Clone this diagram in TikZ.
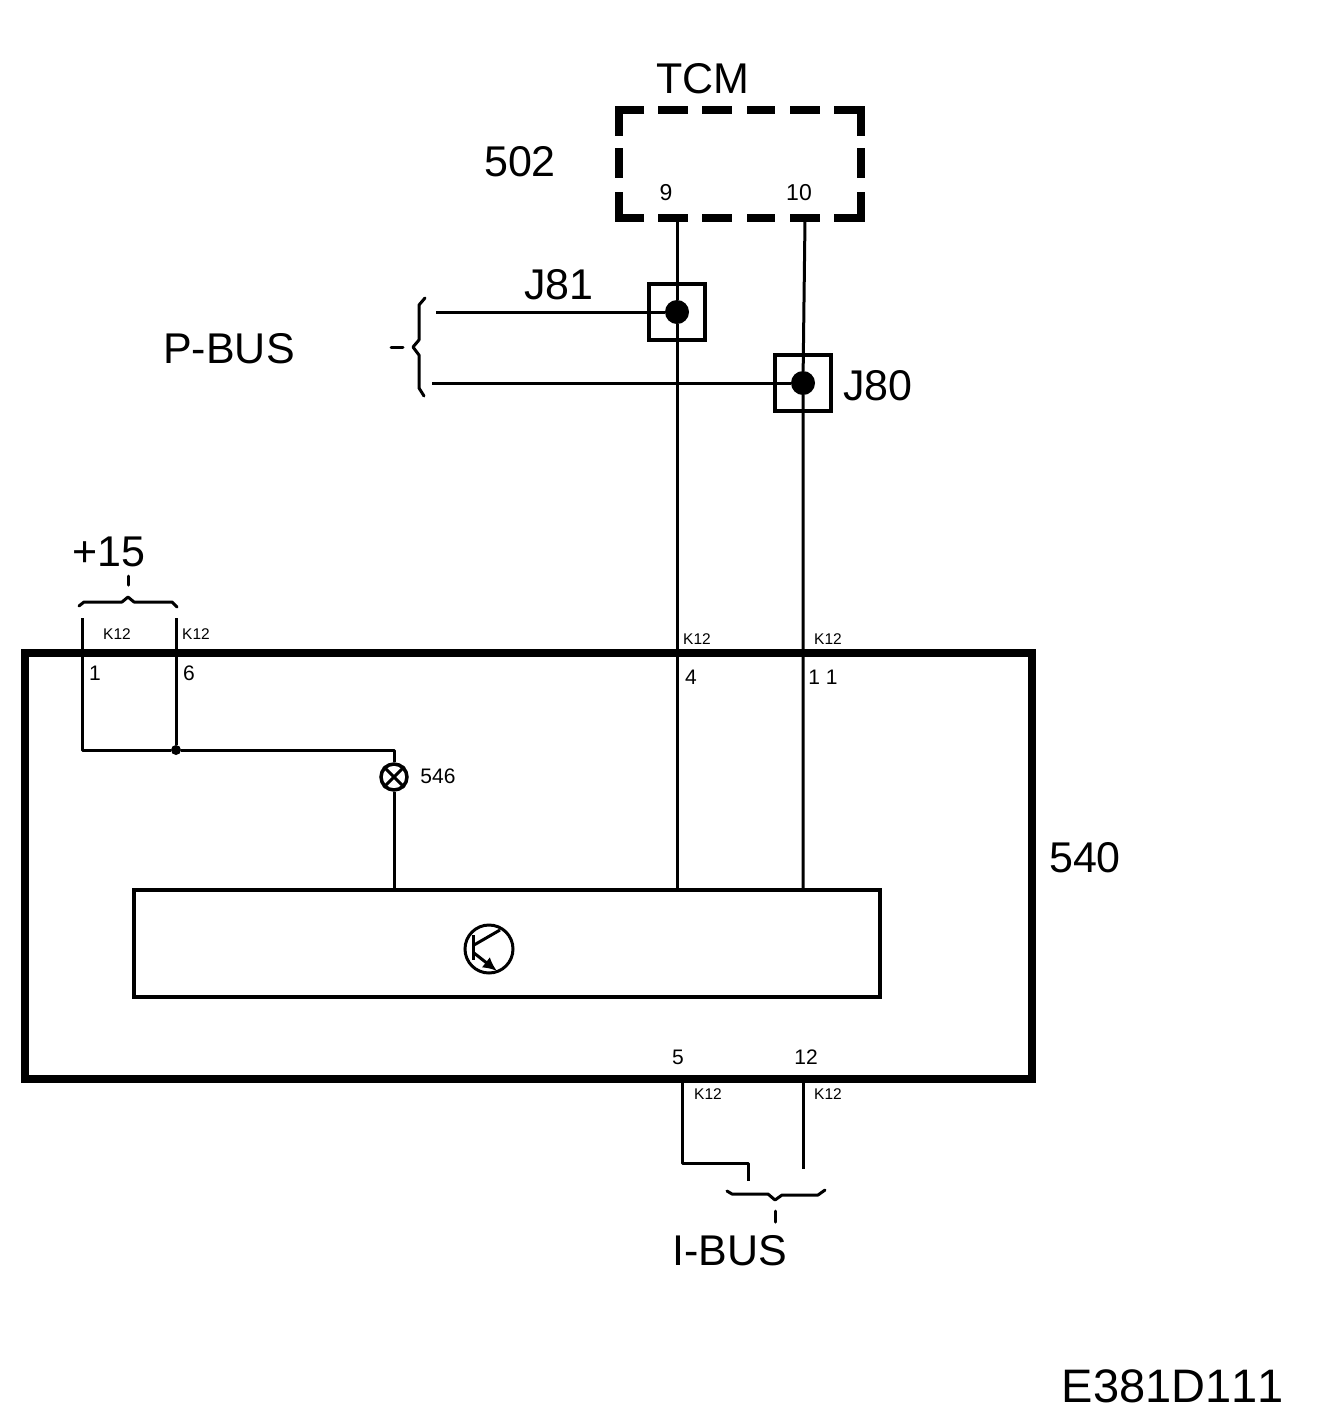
\documentclass[tikz,border=0pt]{standalone}
\usepackage{fontspec}
\setmainfont[Kerning=Off]{Liberation Sans}
\usetikzlibrary{arrows.meta}
\tikzset{
  x=1pt,y=-1pt,
  wire/.style={line width=3pt,line join=round},
  heavy/.style={draw,line width=8pt,outer sep=0pt,inner sep=0pt},
  modbox/.style={draw,line width=3.4pt,outer sep=0pt,inner sep=0pt},
  tcmline/.style={line width=8pt,line join=miter},
  splice/.style={draw,line width=4pt,minimum size=56pt,inner sep=0pt,outer sep=0pt},
  dot/.style={circle,fill=black,inner sep=0pt,minimum size=#1},
  big/.style={font=\fontsize{43pt}{43pt}\selectfont,inner sep=0pt},
  mid/.style={font=\fontsize{23pt}{23pt}\selectfont,inner sep=0pt},
  pin/.style={font=\fontsize{21pt}{21pt}\selectfont,inner sep=0pt},
  tiny/.style={font=\fontsize{15.5pt}{15.5pt}\selectfont,inner sep=0pt},
  brace/.style={line width=3pt,line join=round,line cap=round},
}
\begin{document}
\begin{tikzpicture}
\useasboundingbox (0,0) rectangle (1328,1422);
% TCM dashed box
\draw[tcmline] (644,110) -- (619,110) -- (619,136);
\draw[tcmline] (834,110) -- (860.5,110) -- (860.5,136);
\draw[tcmline] (644,218) -- (619,218) -- (619,192);
\draw[tcmline] (834,218) -- (860.5,218) -- (860.5,192);
\foreach \a/\b in {658/688,702/732,747/775,790/820}{
  \draw[tcmline] (\a,110) -- (\b,110);
  \draw[tcmline] (\a,218) -- (\b,218);
}
\draw[tcmline] (619,148) -- (619,178);
\draw[tcmline] (860.5,148) -- (860.5,178);
% boxes
\node[heavy,minimum width=1007pt,minimum height=426pt,anchor=north west] (ecu) at (25,653) {};
\node[modbox,minimum width=746pt,minimum height=107pt,anchor=north west] (modul) at (134,890) {};
\node[splice] (j81) at (677,312) {};
\node[splice] (j80) at (803,383) {};
\node[dot=24pt] (j81d) at (677,312) {};
\node[dot=24pt] (j80d) at (803,383) {};
% wires
\coordinate (t9) at (677,220); \coordinate (t10) at (805,220);
\coordinate (m4) at (677,890); \coordinate (m11) at (803,890);
\draw[wire] (t9) -- (j81d) -- (m4);
\draw[wire] (t10) -- (j80d) -- (m11);
\coordinate (p1) at (436,312); \coordinate (p2) at (432,383);
\draw[wire] (p1) -- (j81d);
\draw[wire] (p2) -- (j80d);
% +15
\coordinate (a1) at (82,618); \coordinate (a2) at (82,750);
\coordinate (b1) at (176,618);
\node[dot=10pt] (b2) at (176,750) {};
\node[circle,draw,line width=3.5pt,minimum size=26pt,inner sep=0pt] (lamp) at (394,777) {};
\draw[line width=3pt] (lamp.45) -- (lamp.225) (lamp.135) -- (lamp.315);
\coordinate (corner) at (394,750);
\draw[wire] (a1) -- (a2) -- (b2) -- (corner) -- (lamp);
\draw[wire] (b1) -- (b2);
\draw[wire] (lamp) -- (394,890);
% bottom
\coordinate (q5) at (682,1079); \coordinate (q12) at (803,1079);
\coordinate (q5e) at (748,1181); \coordinate (q12e) at (803,1169);
\draw[wire] (q5) -- (682,1163) -- (748,1163) -- (q5e);
\draw[wire] (q12) -- (q12e);
% transistor
\node[circle,draw,line width=3pt,minimum size=48pt,inner sep=0pt] (tr) at (489,949) {};
\draw[line width=3.5pt] (473.5,935) -- (473.5,960);
\draw[line width=3pt] (474,945) -- (500,930);
\draw[line width=3pt,-{Latex[length=14pt,width=13pt]}] (474,953) -- (497,971);
% braces
\draw[brace] (425,298) -- (419,305) -- (419,340) -- (413,347) -- (419,355) -- (419,388) -- (424,396);
\draw[brace] (391,347) -- (403,347);
\draw[brace] (79,606) -- (84,602) -- (122,602) -- (128,597) -- (134,602) -- (172,602) -- (177,607);
\draw[brace] (128,576) -- (128,585);
\draw[brace] (727,1191) -- (732,1194) -- (768,1194) -- (775,1200) -- (782,1195) -- (818,1195) -- (825,1190);
\draw[brace] (775,1211) -- (775,1222);
% big labels
\node[big] (ltcm) at (703,79) {TCM};
\node[big] (l502) at (520,162) {502};
\node[big] (lj81) at (559,285) {J81};
\node[big] (lj80) at (878,386) {J80};
\node[big] (lpbus) at (229,349) {P-BUS};
\node[big] (l15) at (109,552) {+15};
\node[big] (l540) at (1085,858) {540};
\node[big] (libus) at (730,1251) {I-BUS};
\node[big,font=\fontsize{47pt}{47pt}\selectfont] (lcode) at (1173,1386) {E381D111};
% pin labels
\node[mid] (n9) at (666,193) {9};
\node[mid] (n10) at (799,193) {10};
\node[pin] (n1) at (95,673) {1};
\node[pin] (n6) at (189,673) {6};
\node[pin] (n4) at (691,677) {4};
\node[pin] (n11) at (823,677) {1 1};
\node[pin] (n5) at (678,1057) {5};
\node[pin] (n12) at (806,1057) {12};
\node[pin] (n546) at (438,776) {546};
\node[tiny] (k1) at (117,634) {K12};
\node[tiny] (k6) at (196,634) {K12};
\node[tiny] (k4) at (697,639) {K12};
\node[tiny] (k11) at (828,639) {K12};
\node[tiny] (k5) at (708,1094) {K12};
\node[tiny] (k12) at (828,1094) {K12};
\end{tikzpicture}
\end{document}
